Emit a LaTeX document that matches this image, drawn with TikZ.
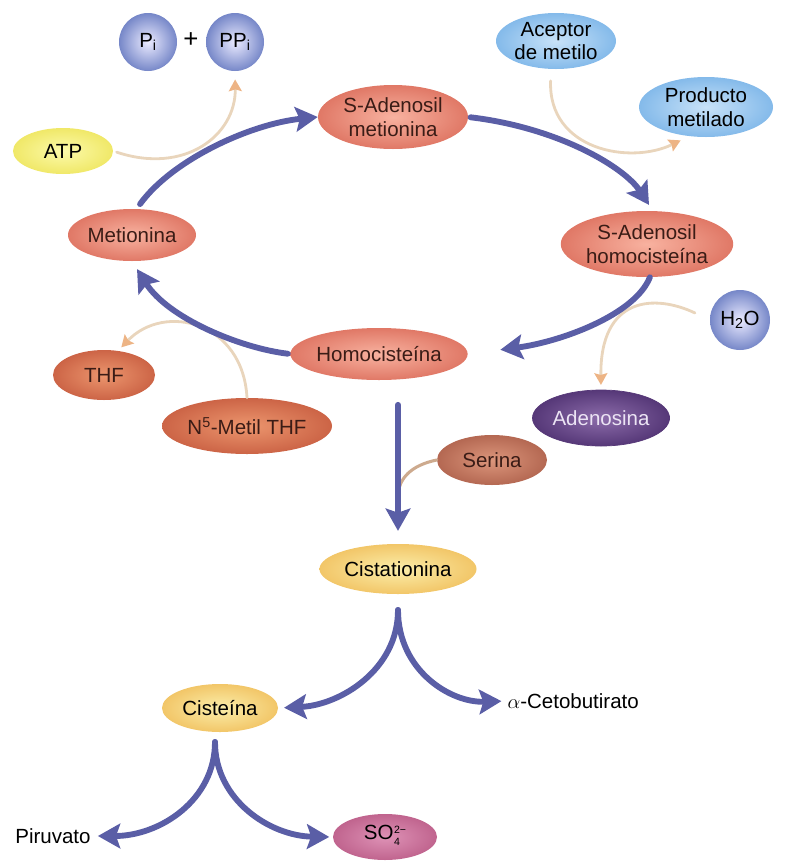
\documentclass[tikz,border=0pt]{standalone}
\usepackage{fontspec}
\setmainfont{Liberation Sans}
\usetikzlibrary{arrows.meta,shapes.geometric}
\definecolor{pathblue}{HTML}{5A5EA6}
\definecolor{tanline}{HTML}{E9D5BC}
\definecolor{tantip}{HTML}{EDB485}
\definecolor{serline}{HTML}{CDAA8E}
\definecolor{darktxt}{HTML}{3A1C16}
\definecolor{violetedge}{RGB}{86,56,120}
\tikzset{
  lbl/.style={font=\fontsize{17.5}{20}\selectfont, align=center, inner sep=2pt},
  ell/.style={ellipse, inner sep=0pt, align=center, font=\fontsize{17.5}{20}\selectfont},
  sz/.style 2 args={minimum width=#1*0.03cm, minimum height=#2*0.03cm},
  sphere/.style={circle, inner sep=0pt, minimum size=#1*0.03cm, shade, inner color=blue!8!white, outer color={rgb,255:red,118;green,135;blue,200}, font=\fontsize{17.5}{20}\selectfont},
  salmon/.style={shade, inner color={rgb,255:red,248;green,178;blue,160}, outer color={rgb,255:red,224;green,120;blue,102}, text=darktxt},
  rust/.style={shade, inner color={rgb,255:red,236;green,150;blue,110}, outer color={rgb,255:red,204;green,100;blue,70}, text=darktxt},
  skyblue/.style={shade, inner color={rgb,255:red,200;green,226;blue,248}, outer color={rgb,255:red,132;green,186;blue,234}},
  lemon/.style={shade, inner color={rgb,255:red,252;green,250;blue,170}, outer color={rgb,255:red,240;green,232;blue,104}},
  gold/.style={shade, inner color={rgb,255:red,251;green,238;blue,170}, outer color={rgb,255:red,242;green,198;blue,104}},
  violet/.style={shade, inner color={rgb,255:red,140;green,108;blue,170}, outer color=violetedge, draw=violetedge, line width=0.6pt, text={rgb,255:red,236;green,228;blue,244}},
  brownish/.style={shade, inner color={rgb,255:red,220;green,150;blue,124}, outer color={rgb,255:red,180;green,104;blue,82}, text=darktxt},
  pinkish/.style={shade, inner color={rgb,255:red,222;green,146;blue,182}, outer color={rgb,255:red,192;green,100;blue,142}},
  bluearr/.style={draw=pathblue, line width=5pt, line cap=round, -{Stealth[length=19pt,width=21pt,inset=3.5pt]}},
  tanarr/.style={draw=tanline, line width=2.4pt, line cap=round, -{Stealth[length=10pt,width=11pt,inset=1.5pt,color=tantip]}},
  serstroke/.style={draw=serline, line width=2.6pt, line cap=round},
}
\begin{document}
\begin{tikzpicture}[x=0.03cm, y=-0.03cm]
\useasboundingbox (0,0) rectangle (785,863);
% nodes
\node[sphere=58] (pi) at (148,42) {P\textsubscript{i}};
\node[lbl, font=\fontsize{22}{24}\selectfont] (plus) at (191,40) {+};
\node[sphere=58] (ppi) at (235,42) {PP\textsubscript{i}};
\node[ell, skyblue, sz={120}{56}] (acc) at (556,41) {Aceptor\\de metilo};
\node[ell, skyblue, sz={134}{60}] (prod) at (706,107) {Producto\\metilado};
\node[ell, lemon, sz={100}{46}] (atp) at (63,151) {ATP};
\node[ell, salmon, sz={150}{64}] (sam) at (393,117) {S-Adenosil\\metionina};
\node[ell, salmon, sz={128}{52}] (met) at (132,235) {Metionina};
\node[ell, salmon, sz={148}{66}] (sah) at (647,244) {S-Adenosil\\homocisteína};
\node[sphere=60] (h2o) at (740,320) {H\textsubscript{2}O};
\node[ell, salmon, sz={132}{52}] (homo) at (379,354) {Homocisteína};
\node[ell, rust, sz={102}{50}] (thf) at (104,375) {THF};
\node[ell, rust, sz={170}{56}] (n5) at (247,426) {N\textsuperscript{5}-Metil THF};
\node[ell, violet, sz={133}{56}] (ado) at (601,418) {Adenosina};
\node[ell, brownish, sz={110}{50}] (ser) at (492,460) {Serina};
\node[ell, gold, sz={157}{50}] (cist) at (398,569) {Cistationina};
\node[ell, gold, sz={116}{48}] (cis) at (220,708) {Cisteína};
\node[lbl, anchor=west] (alpha) at (505,701) {$\alpha$-Cetobutirato};
\node[lbl] (pir) at (53,836) {Piruvato};
\node[ell, pinkish, sz={104}{46}] (so4) at (385,837) {SO\kern0.5pt{\fontsize{9}{10.5}\selectfont\begin{tabular}{@{}l@{}}2−\\4\end{tabular}}};
% junction coordinates
\coordinate (sj) at (398,497);
\coordinate (cb) at (398,610);
\coordinate (cb2) at (215,742);
% tan side reactions
\draw[tanarr, shorten <=3pt, shorten >=7pt] (atp.east) .. controls (185,175) and (236,135) .. (ppi.south);
\draw[tanarr, shorten <=10pt, shorten >=8pt] (acc.260) .. controls (548,150) and (630,165) .. (prod.240);
\draw[tanarr, shorten >=4pt] (n5.north) .. controls (243,322) and (165,302) .. (thf.60);
\draw[tanarr, shorten <=14pt, shorten >=4pt] (h2o.west) .. controls (655,294) and (600,296) .. (ado.north);
\draw[serstroke] (ser.west) .. controls (412,465) and (398,478) .. (sj);
% main cycle
\draw[bluearr, shorten <=5pt] (met.80) .. controls (172,160) and (250,124) .. (sam.west);
\draw[bluearr, shorten <=2pt, shorten >=6pt] (sam.east) .. controls (560,128) and (625,168) .. (sah.80);
\draw[bluearr, shorten >=28pt] (sah.275) .. controls (635,315) and (560,342) .. (homo.east);
\draw[bluearr, shorten <=2pt, shorten >=8pt] (homo.west) .. controls (240,348) and (168,318) .. (met.south);
% transsulfuration
\draw[bluearr, shorten <=21pt, shorten >=11pt] (homo.south -| cist.north) -- (cist.north);
\draw[bluearr, shorten >=5pt] (cb) .. controls (398,670) and (340,705) .. (cis.east);
\draw[bluearr, shorten >=3pt] (cb) .. controls (398,670) and (450,703) .. (alpha.west);
\draw[bluearr, shorten >=4pt] (cb2) .. controls (215,800) and (160,836) .. (pir.east);
\draw[bluearr, shorten >=3pt] (cb2) .. controls (215,800) and (270,836) .. (so4.west);
\end{tikzpicture}
\end{document}
